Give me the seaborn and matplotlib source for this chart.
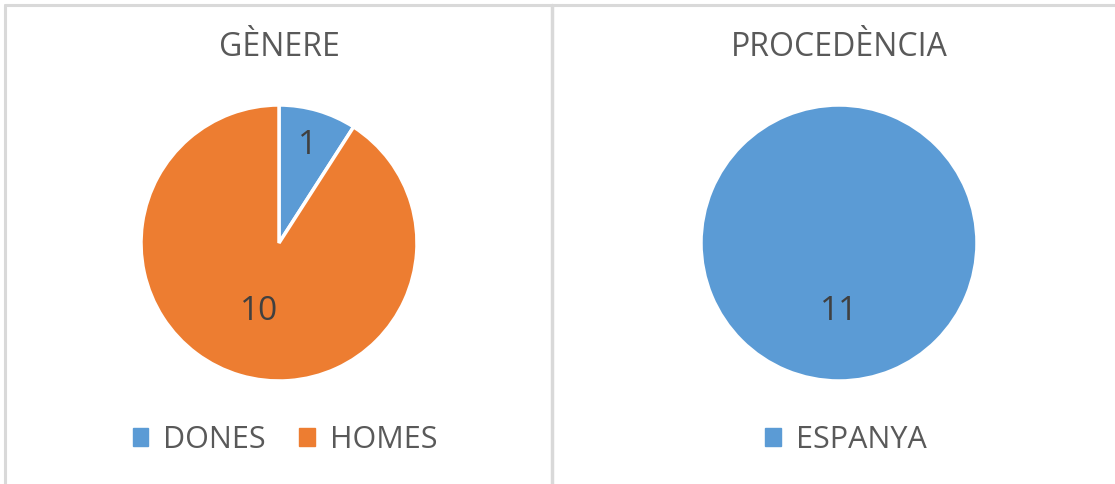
import matplotlib
matplotlib.use("Agg")
import matplotlib.pyplot as plt
import seaborn as sns
import numpy as np
from matplotlib.patches import Patch
from matplotlib.lines import Line2D

# ------------ data ------------
genere_labels = ["DONES", "HOMES"]
genere_values = [1, 10]
proc_labels = ["ESPANYA"]
proc_values = [11]

blue = "#5B9BD5"
orange = "#ED7D31"
text_col = "#595959"

sns.set_theme(style="white")
plt.rcParams["font.family"] = ["Open Sans", "DejaVu Sans"]

W, H = 1115, 484
fig = plt.figure(figsize=(W / 100, H / 100), dpi=100)

# panel borders
border = "#D9D9D9"
fig.add_artist(Line2D([5 / W, 5 / W], [0, 1 - 5 / H], color=border, lw=2.2))
fig.add_artist(Line2D([5 / W, 1], [1 - 5 / H, 1 - 5 / H], color=border, lw=2.2))
fig.add_artist(Line2D([552 / W, 552 / W], [0, 1 - 5 / H], color=border, lw=2.5))


def draw_pie(cx, title, labels, values, colors, label_dists, legend_cx):
    cy, r = 243, 138
    ax = fig.add_axes([(cx - r) / W, (H - cy - r) / H, 2 * r / W, 2 * r / H])
    wedges, _ = ax.pie(values, colors=colors, startangle=90, counterclock=False,
                       wedgeprops=dict(edgecolor="white", linewidth=2.5))
    ax.set_xlim(-1, 1)
    ax.set_ylim(-1, 1)
    ax.set_aspect("equal")
    ax.axis("off")
    for w, v, d in zip(wedges, values, label_dists):
        ang = np.deg2rad((w.theta1 + w.theta2) / 2)
        if len(values) == 1:
            ang = np.deg2rad(-90)
        ax.text(d * np.cos(ang), d * np.sin(ang), str(v), ha="center", va="center",
                fontsize=24, color="#404040")
    fig.text(cx / W, 1 - 48 / H, title, ha="center", va="center",
             fontsize=23, color=text_col)
    handles = [Patch(facecolor=c, edgecolor=c) for c in colors]
    fig.legend(handles, labels, loc="center", bbox_to_anchor=(legend_cx / W, 1 - 440 / H),
               ncol=len(labels), frameon=False, fontsize=22, labelcolor=text_col,
               handlelength=0.5, handleheight=0.5, handletextpad=0.5, columnspacing=1.1)


draw_pie(279, "GÈNERE", genere_labels, genere_values, [blue, orange], [0.74, 0.52], 285)
draw_pie(839, "PROCEDÈNCIA", proc_labels, proc_values, [blue], [0.5], 846)

fig.savefig("out.png", dpi=100, facecolor="white")
